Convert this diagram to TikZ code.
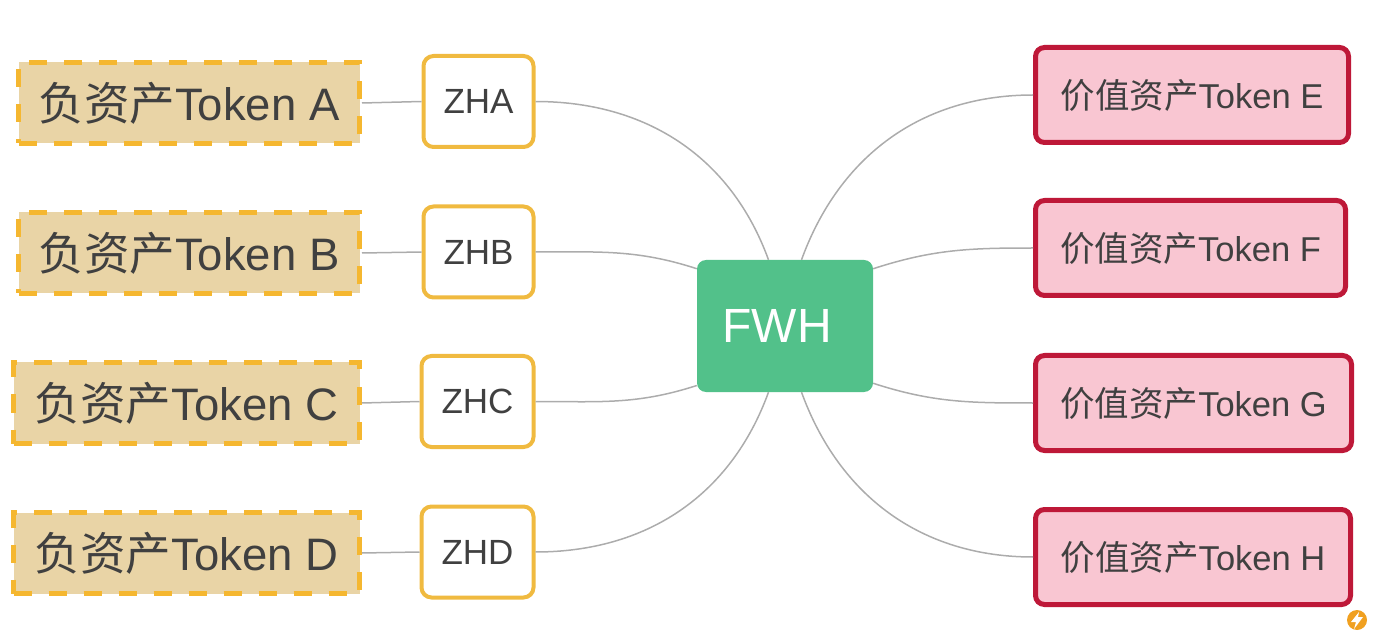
\documentclass[tikz,border=0pt]{standalone}
\usepackage{fontspec}
\setmainfont{Liberation Sans}
\newfontfamily\cjk{Noto Sans CJK SC}
\usetikzlibrary{positioning, calc}
\definecolor{hubcolor}{RGB}{82,193,138}
\definecolor{negfill}{RGB}{233,212,166}
\definecolor{negdash}{RGB}{245,183,48}
\definecolor{zhcolor}{RGB}{240,186,64}
\definecolor{valfill}{RGB}{249,198,210}
\definecolor{valdraw}{RGB}{190,24,56}
\definecolor{linkgray}{RGB}{172,172,172}
\definecolor{textgray}{RGB}{64,64,64}
\definecolor{badgecolor}{RGB}{240,160,32}

\begin{document}
\begin{tikzpicture}[
    x=1pt, y=-1pt,
    negbox/.style={draw=negdash, fill=negfill, line width=5pt, dash pattern=on 18pt off 17pt, minimum width=341pt, minimum height=81pt, text=textgray, font=\fontsize{45.5}{50}\selectfont},
    zhbox/.style={draw=zhcolor, fill=white, line width=4pt, rounded corners=10pt, minimum width=110pt, minimum height=91pt, text=textgray, font=\fontsize{35}{40}\selectfont},
    hub/.style={fill=hubcolor, rounded corners=9pt, minimum width=176pt, minimum height=132pt, text=white, font=\fontsize{48}{54}\selectfont},
    valbox/.style={draw=valdraw, fill=valfill, line width=5pt, rounded corners=9pt, minimum width=313pt, minimum height=95pt, text=textgray, font=\fontsize{34.5}{40}\selectfont},
    link/.style={draw=linkgray, line width=1.5pt}
]
    \useasboundingbox (0,0) rectangle (1374,636);

    % Negative asset tokens
    \node[negbox] (negA) at (189,103) {{\cjk 负资产}Token A};
    \node[negbox] (negB) at (189,253) {{\cjk 负资产}Token B};
    \node[negbox, minimum width=346pt] (negC) at (186.5,403) {{\cjk 负资产}Token C};
    \node[negbox, minimum width=346pt] (negD) at (186.5,553) {{\cjk 负资产}Token D};

    % ZH nodes
    \node[zhbox] (zha) at (478.5,101.5) {ZHA};
    \node[zhbox] (zhb) at (478.5,252) {ZHB};
    \node[zhbox, minimum width=112pt] (zhc) at (477.5,401.5) {ZHC};
    \node[zhbox, minimum width=112pt] (zhd) at (477.5,552) {ZHD};

    % Hub
    \node[hub] (fwh) at (785,326) {FWH\hspace*{16pt}};

    % Value asset tokens
    \node[valbox] (valE) at (1192,95) {{\cjk 价值资产}Token E};
    \node[valbox, minimum width=310pt] (valF) at (1190.5,248) {{\cjk 价值资产}Token F};
    \node[valbox, minimum width=316pt] (valG) at (1193.5,403) {{\cjk 价值资产}Token G};
    \node[valbox, minimum width=315pt] (valH) at (1193,557) {{\cjk 价值资产}Token H};

    % Links
    \draw[link] (negA.east) -- (zha.west);
    \draw[link] (negB.east) -- (zhb.west);
    \draw[link] (negC.east) -- (zhc.west);
    \draw[link] (negD.east) -- (zhd.west);
    \draw[link] (zha.east) to[out=0, in=110] (fwh.104);
    \draw[link] (zhb.east) to[out=0, in=162] (fwh.147);
    \draw[link] (zhc.east) to[out=0, in=198] (fwh.214);
    \draw[link] (zhd.east) to[out=0, in=250] (fwh.256);
    \draw[link] (fwh.76) to[out=70, in=180] (valE.west);
    \draw[link] (fwh.33) to[out=18, in=180] (valF.west);
    \draw[link] (fwh.-33) to[out=-18, in=180] (valG.west);
    \draw[link] (fwh.-76) to[out=-70, in=180] (valH.west);

    % Badge
    \node[circle, fill=badgecolor, minimum size=20pt, inner sep=0pt] (badge) at (1357,620) {};
    \fill[white] (1359,612) -- (1351,622) -- (1356,622) -- (1354,629) -- (1363,617) -- (1358,617) -- cycle;
\end{tikzpicture}
\end{document}
